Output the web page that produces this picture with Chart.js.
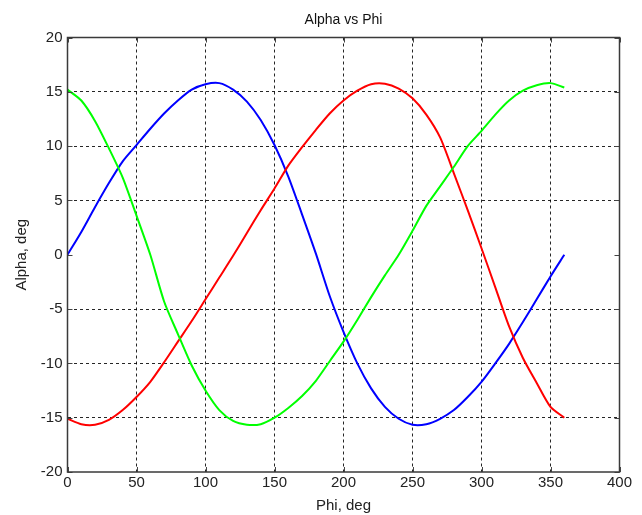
<!DOCTYPE html>
<html>
<head>
<meta charset="utf-8">
<script src="https://cdn.jsdelivr.net/npm/chart.js@4.4.0/dist/chart.umd.min.js"></script>
<style>
  html, body { margin: 0; padding: 0; background: #fff; }
  #wrap { width: 642px; height: 515px; }
</style>
</head>
<body>
<div id="wrap"><canvas id="c" width="642" height="515"></canvas></div>
<script>
const phi = [0,10,20,30,40,50,60,70,80,90,100,110,120,130,140,150,160,170,180,190,200,210,220,230,240,250,260,270,280,290,300,310,320,330,340,350,360];
const blueAlpha = [0,2.1,4.4,6.6,8.6,10.1,11.6,13.0,14.2,15.2,15.7,15.8,15.2,14.1,12.4,10.1,7.2,3.7,0.1,-3.8,-7.1,-10.0,-12.3,-14.0,-15.1,-15.65,-15.6,-15.1,-14.3,-13.1,-11.7,-10.0,-8.2,-6.2,-4.1,-2.0,0];
const greenAlpha = [15.2,14.2,12.3,9.8,7.1,3.6,0.0,-4.3,-7.3,-10.2,-12.5,-14.3,-15.3,-15.65,-15.6,-15.0,-14.1,-13.0,-11.6,-9.8,-8.0,-6.0,-3.9,-1.9,0.0,2.2,4.5,6.3,8.1,10.0,11.4,12.9,14.2,15.1,15.6,15.8,15.4];
const redAlpha = [-15.1,-15.6,-15.65,-15.2,-14.3,-13.1,-11.7,-9.9,-8.0,-6.1,-4.1,-2.1,-0.1,2.0,4.1,6.1,8.2,9.9,11.5,13.0,14.2,15.1,15.7,15.75,15.3,14.4,12.9,10.8,7.5,4.1,0.6,-3.0,-6.6,-9.5,-11.8,-14.0,-15.0];
const xMin = 0, xMax = 400, xStep = 50;
const yMin = -20, yMax = 20, yStep = 5;
const titleText = 'Alpha vs Phi';
const xLabel = 'Phi, deg';
const yLabel = 'Alpha, deg';

function pts(ys) { return phi.map((p, i) => ({x: p, y: ys[i]})); }

const FONT = '"Liberation Sans", Arial, sans-serif';
const gridCol = (ctx) => {
  const v = ctx.tick && ctx.tick.value;
  return (v === xMin || v === xMax || v === yMin || v === yMax) ? 'rgba(0,0,0,0)' : 'rgba(0,0,0,0.85)';
};

const boxPlugin = {
  id: 'box',
  afterDraw(chart) {
    const {ctx, chartArea: a, scales} = chart;
    ctx.save();
    ctx.strokeStyle = '#444';
    ctx.lineWidth = 1;
    ctx.beginPath();
    scales.x.ticks.forEach(t => {
      const px = Math.round(scales.x.getPixelForValue(t.value)) + 0.5;
      ctx.moveTo(px, a.bottom); ctx.lineTo(px, a.bottom - 5);
      ctx.moveTo(px, a.top); ctx.lineTo(px, a.top + 5);
    });
    scales.y.ticks.forEach(t => {
      const py = Math.round(scales.y.getPixelForValue(t.value)) + 0.5;
      ctx.moveTo(a.left, py); ctx.lineTo(a.left + 5, py);
      ctx.moveTo(a.right, py); ctx.lineTo(a.right - 5, py);
    });
    ctx.stroke();
    ctx.lineWidth = 1.5;
    ctx.strokeStyle = '#3a3a3a';
    ctx.strokeRect(a.left, a.top, a.right - a.left, a.bottom - a.top);
    ctx.fillStyle = '#111';
    ctx.font = '14px ' + FONT;
    ctx.textAlign = 'center';
    ctx.textBaseline = 'middle';
    ctx.fillText(titleText, (a.left + a.right) / 2, 20);
    ctx.restore();
  }
};

const ds = (label, ys, color) => ({
  label, data: pts(ys), borderColor: color, borderWidth: 2, pointRadius: 0,
  tension: 0.25, fill: false
});

new Chart(document.getElementById('c'), {
  type: 'line',
  data: {
    datasets: [
      ds('green', greenAlpha, '#00ff00'),
      ds('red', redAlpha, '#ff0000'),
      ds('blue', blueAlpha, '#0000ff')
    ]
  },
  options: {
    responsive: false,
    animation: false,
    layout: {padding: {left: 0, right: 22.5, top: 37.5, bottom: 0}},
    plugins: {
      legend: {display: false},
      tooltip: {enabled: false},
      title: {display: false}
    },
    scales: {
      x: {
        type: 'linear', min: xMin, max: xMax,
        ticks: {stepSize: xStep, color: '#222', font: {family: FONT, size: 15}, padding: 2, maxRotation: 0},
        grid: {color: gridCol, lineWidth: 1, drawTicks: false},
        border: {display: false, dash: [3, 3]},
        title: {display: true, text: xLabel, color: '#222', font: {family: FONT, size: 15}, padding: {top: 0, bottom: 0}},
        afterFit(s) { s.height = 43; }
      },
      y: {
        type: 'linear', min: yMin, max: yMax,
        ticks: {stepSize: yStep, color: '#222', font: {family: FONT, size: 15}, padding: 5},
        grid: {color: gridCol, lineWidth: 1, drawTicks: false},
        border: {display: false, dash: [3, 3]},
        title: {display: true, text: yLabel, color: '#222', font: {family: FONT, size: 15}, padding: {top: 13, bottom: 0}},
        afterFit(s) { s.width = 67.5; }
      }
    }
  },
  plugins: [boxPlugin]
});
</script>
</body>
</html>
